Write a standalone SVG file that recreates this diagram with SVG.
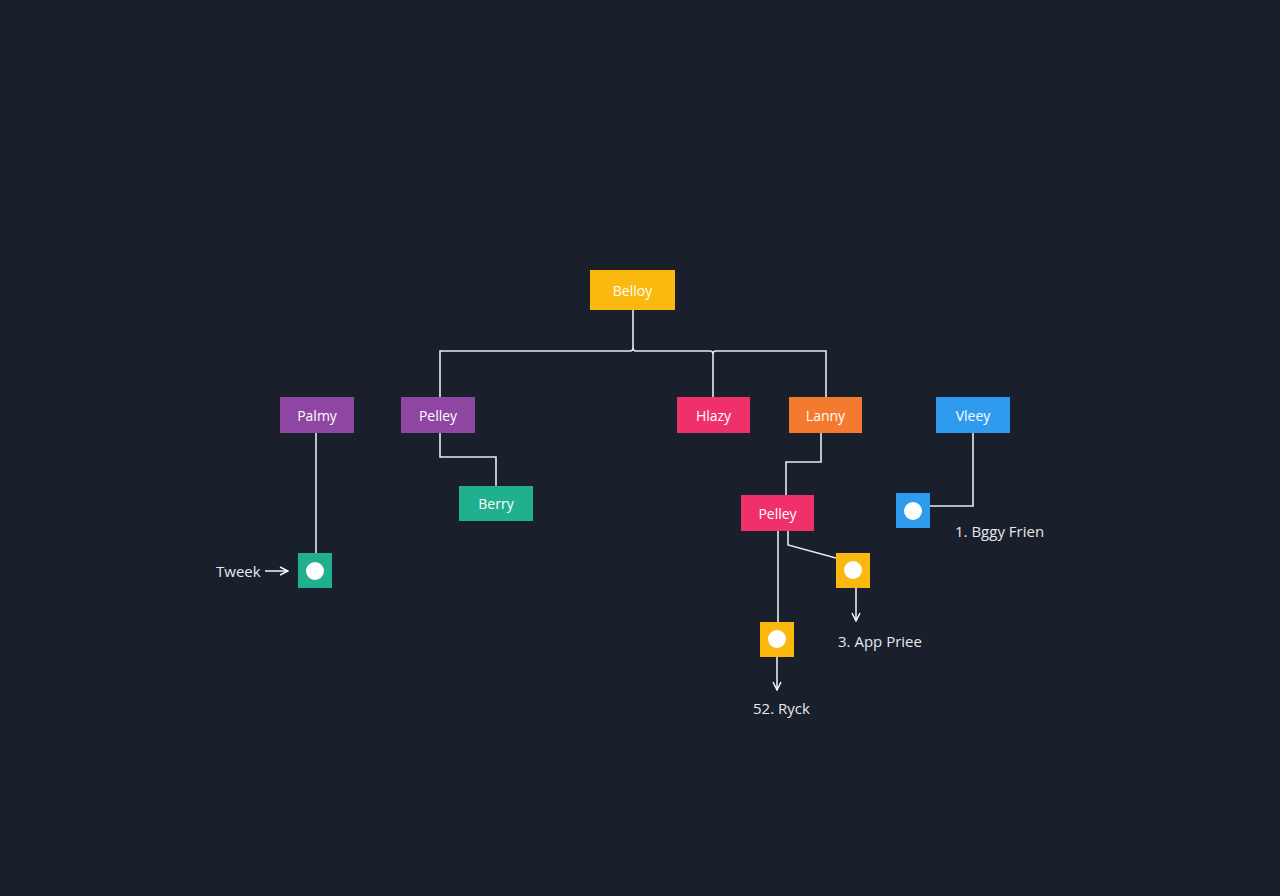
<svg xmlns="http://www.w3.org/2000/svg" width="1280" height="896" viewBox="0 0 1280 896">
<defs>
<marker id="arr" viewBox="0 0 10 10" refX="9" refY="5" markerWidth="10" markerHeight="10" markerUnits="userSpaceOnUse" orient="auto">
<path d="M1,1 L9,5 L1,9" fill="none" stroke="#ffffff" stroke-width="1.4"/>
</marker>
<style>
.bg{fill:#19202b}
.ln{fill:none;stroke:#e8eaed;stroke-width:1.6}
.t{font-family:"Open Sans","Liberation Sans",sans-serif;font-size:14px;fill:#ffffff;text-anchor:middle;dominant-baseline:central}
.lb{font-family:"Open Sans","Liberation Sans",sans-serif;font-size:15px;fill:#e6e8ec;dominant-baseline:central}
.dot{fill:#ffffff}
.yel{fill:#fbb80f}
.pur{fill:#8f46a3}
.pnk{fill:#f0306a}
.org{fill:#f47a30}
.blu{fill:#2e9bef}
.tea{fill:#21b08d}
</style>
</defs>
<rect class="bg" x="0" y="0" width="1280" height="896"/>
<g id="connectors">
<path class="ln" d="M633,310 V348 Q633,351 630,351 H440 V397"/>
<path class="ln" d="M633,348 Q633,351 636,351 H710 Q713,351 713,354 V397"/>
<path class="ln" d="M713,354 Q713,351 716,351 H826 V397"/>
<path class="ln" d="M316,433 V553"/>
<path class="ln" d="M440,433 V457 H496 V486"/>
<path class="ln" d="M821,433 V462 H786 V495"/>
<path class="ln" d="M778,531 V622"/>
<path class="ln" d="M788,531 V545 L836,558"/>
<path class="ln" d="M973,433 V506 H930"/>
<path class="ln" d="M265,571 H288" marker-end="url(#arr)"/>
<path class="ln" d="M856,588 V621" marker-end="url(#arr)"/>
<path class="ln" d="M777,657 V690" marker-end="url(#arr)"/>
</g>
<g id="n-top"><rect class="yel" x="590" y="270" width="85" height="40"/><text class="t" x="632.5" y="290">Belloy</text></g>
<g id="n-palmy"><rect class="pur" x="280" y="397" width="74" height="36"/><text class="t" x="317" y="415">Palmy</text></g>
<g id="n-pelley"><rect class="pur" x="401" y="397" width="74" height="36"/><text class="t" x="438" y="415">Pelley</text></g>
<g id="n-hlazy"><rect class="pnk" x="677" y="397" width="73" height="36"/><text class="t" x="713.5" y="415">Hlazy</text></g>
<g id="n-lanny"><rect class="org" x="789" y="397" width="73" height="36"/><text class="t" x="825.5" y="415">Lanny</text></g>
<g id="n-vleey"><rect class="blu" x="936" y="397" width="74" height="36"/><text class="t" x="973" y="415">Vleey</text></g>
<g id="n-berry"><rect class="tea" x="459" y="486" width="74" height="35"/><text class="t" x="496" y="503.5">Berry</text></g>
<g id="n-pelley2"><rect class="pnk" x="741" y="495" width="73" height="36"/><text class="t" x="777.5" y="513">Pelley</text></g>
<g id="n-tweek"><rect class="tea" x="298" y="553" width="34" height="35"/><circle class="dot" cx="315" cy="571" r="9"/><text class="lb" x="216" y="571">Tweek</text></g>
<g id="n-app"><rect class="yel" x="836" y="553" width="34" height="35"/><circle class="dot" cx="853" cy="570" r="9"/><text class="lb" x="838" y="641">3. App Priee</text></g>
<g id="n-ryck"><rect class="yel" x="760" y="622" width="34" height="35"/><circle class="dot" cx="777" cy="639" r="9"/><text class="lb" x="753" y="708">52. Ryck</text></g>
<g id="n-bggy"><rect class="blu" x="896" y="493" width="34" height="35"/><circle class="dot" cx="913" cy="511" r="9"/><text class="lb" x="955" y="531">1. Bggy Frien</text></g>
</svg>
